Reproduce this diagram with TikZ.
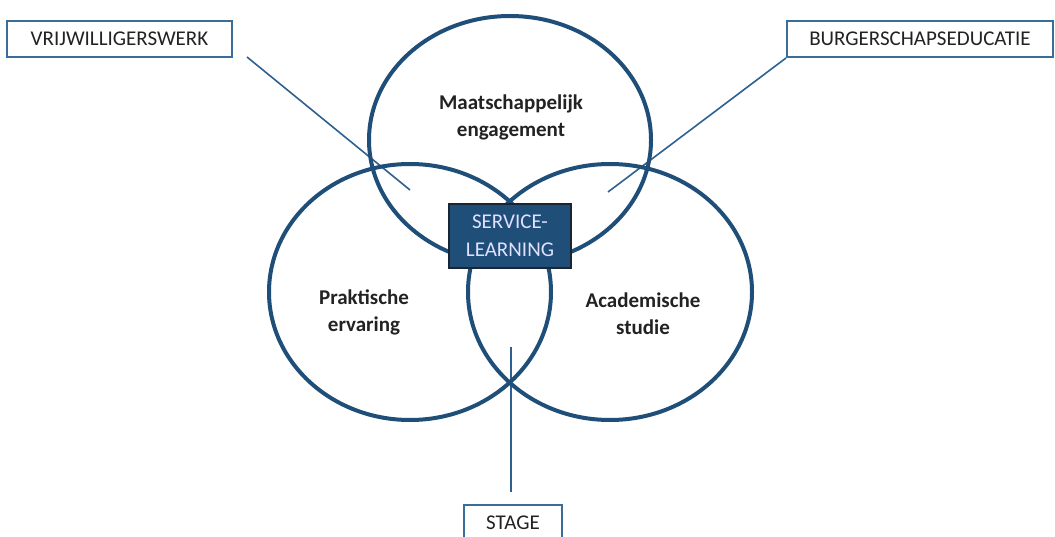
\documentclass[tikz,border=0pt]{standalone}
\usepackage{fontspec}
\setmainfont{Carlito}
\usetikzlibrary{shapes.geometric}
\definecolor{ringblue}{HTML}{1F4E79}
\definecolor{lineblue}{HTML}{2E6090}
\definecolor{boxedge}{HTML}{3A6E9A}
\definecolor{slfill}{HTML}{1F4E79}
\definecolor{sledge}{HTML}{1A2433}
\definecolor{txt}{HTML}{222222}
\tikzset{
  ring/.style={draw=ringblue, line width=4pt, ellipse, inner sep=0pt},
  leader/.style={draw=lineblue, line width=1.6pt},
  tagbox/.style={draw=boxedge, line width=2pt, fill=white, inner sep=0pt, font=\fontsize{21}{25}\selectfont, text=txt},
  ringlabel/.style={font=\bfseries\fontsize{21}{27}\selectfont, text=txt, align=center},
  slbox/.style={draw=sledge, fill=slfill, line width=2pt, text=white!88!blue, inner sep=0pt, align=center, font=\fontsize{21}{28}\selectfont}
}
\begin{document}
\begin{tikzpicture}[x=1pt,y=-1pt]
\useasboundingbox (0,0) rectangle (1055,537);
\clip (0,0) rectangle (1055,537);
\fill[white] (0,0) rectangle (1055,537);
% tag boxes
\node[tagbox, minimum width=225pt, minimum height=36pt] (vrij) at (119.5,39) {VRIJWILLIGERSWERK};
\node[tagbox, minimum width=266pt, minimum height=36pt] (burg) at (920,39) {BURGERSCHAPSEDUCATIE};
\node[tagbox, minimum width=98pt, minimum height=60pt, anchor=north] (stage) at (513,504) {};
\node[font=\fontsize{21}{25}\selectfont, text=txt] (stagetxt) at (513,523) {STAGE};
% leader line anchors
\coordinate (vstart) at (247,57);
\coordinate (vend) at (410,190);
\coordinate (bend) at (608,192);
\coordinate (sstart) at (511,347);
\coordinate (send) at (511,492);
\draw[leader] (vstart) -- (vend);
\draw[leader] (burg.south west) -- (bend);
\draw[leader] (sstart) -- (send);
% rings
\node[ring, minimum width=282pt, minimum height=248pt] (top) at (510,140) {};
\node[ring, minimum width=282pt, minimum height=256pt] (left) at (410,292) {};
\node[ring, minimum width=284pt, minimum height=256pt] (right) at (610,292) {};
% ring labels
\node[ringlabel] (toplab) at (511,117) {Maatschappelijk\\engagement};
\node[ringlabel] (leftlab) at (364,312) {Praktische\\ervaring};
\node[ringlabel] (rightlab) at (643,314) {Academische\\studie};
% service-learning box
\node[slbox, minimum width=122pt, minimum height=64pt] (sl) at (510,236) {SERVICE-\\LEARNING};
\end{tikzpicture}
\end{document}
